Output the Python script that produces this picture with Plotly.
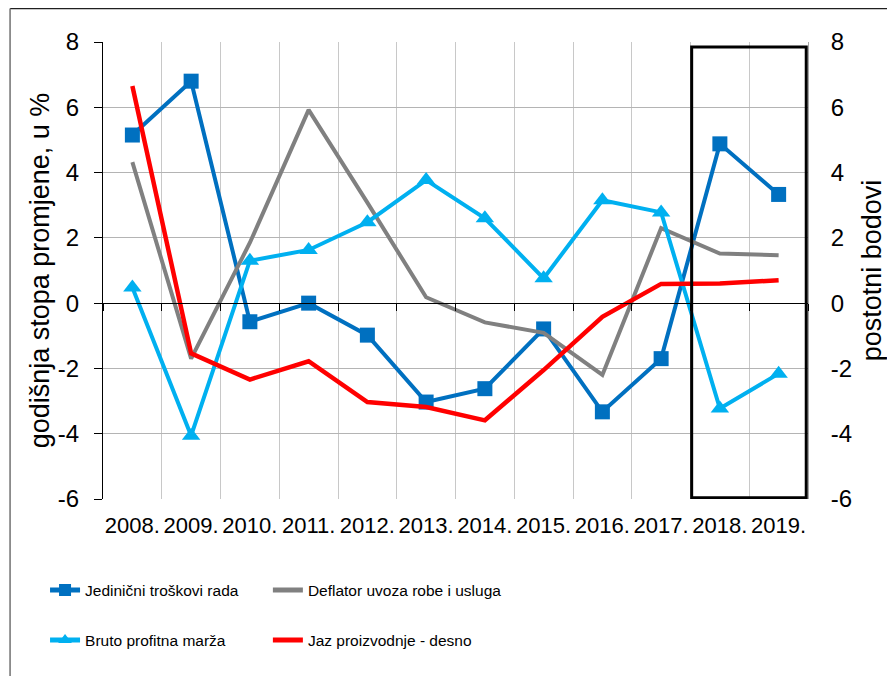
import plotly.graph_objects as go

years = ["2008.", "2009.", "2010.", "2011.", "2012.", "2013.",
         "2014.", "2015.", "2016.", "2017.", "2018.", "2019."]
jedinicni = [5.15, 6.80, -0.57, 0.00, -0.98, -3.03, -2.62, -0.79, -3.33, -1.70, 4.88, 3.33]
deflator = [4.32, -1.70, 1.85, 5.92, 3.08, 0.18, -0.59, -0.91, -2.20, 2.30, 1.52, 1.47]
bruto = [0.48, -4.06, 1.30, 1.63, 2.48, 3.77, 2.60, 0.76, 3.15, 2.78, -3.23, -2.16]
jaz = [6.65, -1.54, -2.34, -1.78, -3.03, -3.18, -3.59, -2.05, -0.42, 0.59, 0.60, 0.70]

y_ticks = [-6, -4, -2, 0, 2, 4, 6, 8]
y_ticktext = ["-6", "-4", "-2", "0", "2", "4", "6", "8"]

# page body has an 8px margin: figure is drawn offset by 8px
OFF = 8
W, H = 887, 668
L, T = 95, 34.3
PLOT_RIGHT, PLOT_BOTTOM = 800.5, 490.7
R, B = W - PLOT_RIGHT, H - PLOT_BOTTOM
PW = PLOT_RIGHT - L
PH = PLOT_BOTTOM - T


def px_x(screen_x):
    return (screen_x - OFF - L) / PW


def px_y(screen_y):
    return (PLOT_BOTTOM - (screen_y - OFF)) / PH


FONT = "Liberation Sans, Arial, sans-serif"

fig = go.Figure()
fig.add_trace(go.Scatter(
    x=years, y=jedinicni, name="Jedinični troškovi rada", mode="lines+markers",
    line=dict(color="#0070C0", width=4),
    marker=dict(symbol="square", size=15, color="#0070C0"),
    legend="legend"))
fig.add_trace(go.Scatter(
    x=years, y=deflator, name="Deflator uvoza robe i usluga", mode="lines",
    line=dict(color="#808080", width=4),
    legend="legend2"))
fig.add_trace(go.Scatter(
    x=years, y=bruto, name="Bruto profitna marža", mode="lines+markers",
    line=dict(color="#00B0F0", width=4),
    marker=dict(symbol="triangle-up", size=16, color="#00B0F0"),
    legend="legend3"))
fig.add_trace(go.Scatter(
    x=years, y=jaz, name="Jaz proizvodnje - desno", mode="lines",
    line=dict(color="#FF0000", width=4.5),
    yaxis="y2", legend="legend4"))
# helper trace so the zero-line axis (x2) gets drawn
fig.add_trace(go.Scatter(x=[], y=[], xaxis="x2", yaxis="y", showlegend=False,
                         hoverinfo="skip"))


def leg(x, y):
    return dict(orientation="h", x=px_x(x), xanchor="left", y=px_y(y), yanchor="middle",
                font=dict(size=15.5, family=FONT, color="black"),
                itemsizing="constant", bgcolor="rgba(0,0,0,0)")


fig.update_layout(
    width=W, height=H,
    margin=dict(l=L, r=R, t=T, b=B, autoexpand=False),
    paper_bgcolor="white", plot_bgcolor="white",
    font=dict(family=FONT, color="black"),
    showlegend=True,
    xaxis=dict(
        type="category", range=[-0.5, 11.5], tickson="boundaries",
        showgrid=True, gridcolor="#C8C8C8", gridwidth=1,
        ticks="", showline=False, zeroline=False, tickangle=0,
        tickfont=dict(size=22, family=FONT, color="black"),
        ticklabelstandoff=11, automargin=False,
    ),
    xaxis2=dict(
        overlaying="x", anchor="free", position=6 / 14,
        range=[-0.5, 11.5], tickvals=[i - 0.5 for i in range(13)],
        ticks="outside", ticklen=7, tickcolor="black", tickwidth=1,
        showticklabels=False, showline=True, linecolor="black", linewidth=1,
        showgrid=False, zeroline=False, automargin=False,
    ),
    yaxis=dict(
        range=[-6, 8], tickvals=y_ticks, ticktext=y_ticktext,
        showgrid=True, gridcolor="#B4B4B4", gridwidth=1, zeroline=False,
        showline=True, linecolor="black", linewidth=1,
        ticks="outside", ticklen=8, tickcolor="black",
        tickfont=dict(size=24, family=FONT, color="black"),
        ticklabelstandoff=10,
        title=dict(text="godišnja stopa promjene, u %",
                   font=dict(size=27, family=FONT, color="black"), standoff=0),
        automargin=False,
    ),
    yaxis2=dict(
        overlaying="y", side="right", range=[-6, 8], tickvals=y_ticks, ticktext=y_ticktext,
        showgrid=False, zeroline=False,
        showline=True, linecolor="#A6A6A6", linewidth=1, ticks="",
        tickfont=dict(size=24, family=FONT, color="black"),
        ticklabelstandoff=17,
        title=dict(text="postotni bodovi",
                   font=dict(size=27, family=FONT, color="black"), standoff=10),
        automargin=False,
    ),
    legend=leg(45, 590),
    legend2=leg(268, 590),
    legend3=leg(45, 640),
    legend4=leg(268, 640),
    shapes=[
        dict(type="rect", xref="x", yref="y", x0=9.52, x1=11.47, y0=-5.96, y1=7.85,
             line=dict(color="black", width=3), layer="above"),
        dict(type="line", xref="paper", yref="paper",
             x0=px_x(10), x1=px_x(900), y0=px_y(8.8), y1=px_y(8.8),
             line=dict(color="#202020", width=1.5)),
        dict(type="line", xref="paper", yref="paper",
             x0=px_x(10), x1=px_x(10), y0=px_y(8.8), y1=px_y(690),
             line=dict(color="#707070", width=1.5)),
    ],
)

fig.write_html("out.html")
